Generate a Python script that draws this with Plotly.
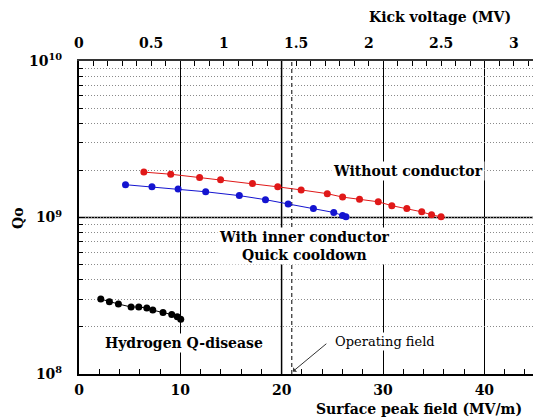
import plotly.graph_objects as go

# ---------------- data ----------------
es_without = [6.40, 9.05, 11.90, 13.97, 17.12, 19.61, 21.92, 24.50, 26.01, 27.68,
              29.53, 30.87, 32.35, 33.82, 34.79, 35.73]
q_without = [1.95e9, 1.89e9, 1.80e9, 1.74e9, 1.65e9, 1.57e9, 1.50e9, 1.42e9, 1.35e9,
             1.31e9, 1.26e9, 1.19e9, 1.14e9, 1.087e9, 1.04e9, 1.01e9]

es_inner = [4.59, 7.20, 9.78, 12.50, 15.82, 18.40, 20.64, 23.13, 25.14, 26.01, 26.34]
q_inner = [1.62e9, 1.57e9, 1.52e9, 1.46e9, 1.38e9, 1.30e9, 1.22e9, 1.14e9, 1.077e9,
           1.03e9, 1.01e9]

es_h = [2.15, 3.00, 3.89, 5.14, 5.90, 6.69, 7.28, 8.29, 9.15, 9.70, 10.04]
q_h = [3.01e8, 2.89e8, 2.80e8, 2.68e8, 2.68e8, 2.64e8, 2.56e8, 2.47e8, 2.40e8,
       2.32e8, 2.24e8]

operating_field = 21.0           # MV/m
kick_per_es = 3.0 / 42.9         # MV per (MV/m)
x_max = 44.8                     # visible part of the field axis
bottom_ticks = [0, 10, 20, 30, 40]
top_ticks = [0, 0.5, 1, 1.5, 2, 2.5, 3]
top_tick_labels = ["0", "0.5", "1", "1.5", "2", "2.5", "3"]
y_major = [1e8, 1e9, 1e10]
y_major_labels = ["10<sup>8</sup>", "10<sup>9</sup>", "10<sup>10</sup>"]
y_minor = [m * 10 ** e for e in (8, 9) for m in range(2, 10)]

FONT = "DejaVu Serif"
BOLD = dict(family=FONT, size=14, color="black", weight="bold")

kick_max = x_max * kick_per_es

fig = go.Figure()

def add_series(x, y, color):
    fig.add_trace(go.Scatter(
        x=x, y=y, mode="lines+markers",
        line=dict(color=color, width=1),
        marker=dict(color=color, size=7, symbol="circle"),
        showlegend=False, hoverinfo="skip"))

add_series(es_without, q_without, "#e01818")
add_series(es_inner, q_inner, "#1414d0")
add_series(es_h, q_h, "black")

# ---------------- axes ----------------
fig.update_layout(
    width=533, height=420,
    margin=dict(l=79, r=0, t=61, b=46, autoexpand=False),
    paper_bgcolor="white", plot_bgcolor="white",
    font=dict(family=FONT, size=14, color="black"),
    xaxis=dict(
        range=[0, x_max], tickvals=bottom_ticks,
        ticktext=[str(v) for v in bottom_ticks],
        tickfont=BOLD, showgrid=True, gridcolor="black", gridwidth=1,
        zeroline=False, showline=True, linecolor="black", linewidth=2,
        ticks="inside", ticklen=5, tickcolor="black",
        minor=dict(dtick=2, ticks="inside", ticklen=5, tickcolor="black", showgrid=False),
        ticklabelstandoff=2, automargin=False, ticklabeloverflow="allow",
    ),
    xaxis2=dict(
        overlaying="x", side="top", anchor="y",
        range=[0, kick_max], tickvals=top_ticks,
        showticklabels=False, showgrid=False, zeroline=False,
        showline=True, linecolor="#333333", linewidth=2,
        ticks="inside", ticklen=5, tickcolor="black",
        minor=dict(dtick=0.1, ticks="inside", ticklen=5, tickcolor="black"),
        automargin=False,
    ),
    yaxis=dict(
        type="log", range=[8, 10],
        tickvals=y_major + y_minor,
        ticktext=y_major_labels + [""] * len(y_minor),
        tickfont=BOLD, showgrid=True, gridcolor="#8a8a8a", gridwidth=1,
        griddash="1px,2px", zeroline=False,
        showline=True, linecolor="black", linewidth=2,
        ticks="inside", ticklen=4, tickcolor="black",
        ticklabelstandoff=12, automargin=False, ticklabeloverflow="allow",
    ),
)

# invisible trace to activate the top (kick voltage) axis
fig.add_trace(go.Scatter(x=[v * kick_per_es for v in es_without], y=q_without,
                         xaxis="x2", yaxis="y", mode="markers",
                         marker=dict(opacity=0), showlegend=False, hoverinfo="skip"))

# top-axis tick labels, placed along the kick-voltage scale
for v, t in zip(top_ticks, top_tick_labels):
    fig.add_annotation(text=t, x=v / kick_max, xref="paper", y=1, yref="paper",
                       yshift=18, showarrow=False, font=BOLD,
                       xanchor="center", yanchor="middle")

# solid major grid line at 10^9 and gray line at 20 MV/m, operating field dashed
fig.add_shape(type="line", xref="paper", x0=0, x1=1, yref="y", y0=1e9, y1=1e9,
              line=dict(color="black", width=1.5), layer="below")
fig.add_shape(type="line", xref="x", x0=20, x1=20, yref="paper", y0=0, y1=1,
              line=dict(color="#808080", width=2), layer="below")
fig.add_shape(type="line", xref="x", x0=operating_field, x1=operating_field,
              yref="paper", y0=0, y1=1,
              line=dict(color="black", width=1, dash="4px,3px"), layer="below")

# ---------------- annotations ----------------
def label(text, x, y, **kw):
    fig.add_annotation(text=text, x=x, y=y, xref="x", yref="y", showarrow=False,
                       bgcolor="white", borderpad=1, **kw)

label("Without conductor", 32.5, 9.296, font=BOLD)
label("With inner conductor<br>Quick cooldown", 22.2, 8.815, font=BOLD)
label("Hydrogen Q-disease", 10.4, 8.20, font=BOLD)
label("Operating field", 30.2, 8.207,
      font=dict(family=FONT, size=13, color="black"))

fig.add_annotation(x=operating_field + 0.1, y=8.016, xref="x", yref="y", text="",
                   showarrow=True, ax=35, ay=-29, arrowhead=1, arrowsize=1,
                   arrowwidth=1, arrowcolor="#333333")

fig.add_annotation(text="Qo", xref="paper", yref="paper",
                   x=(18 - 79) / 454, y=(374 - 218) / 313, textangle=-90,
                   showarrow=False, font=BOLD, xanchor="center", yanchor="middle")
fig.add_annotation(text="Kick voltage (MV)", xref="paper", yref="paper",
                   x=(440 - 79) / 454, y=(374 - 17) / 313,
                   showarrow=False, font=BOLD, xanchor="center", yanchor="middle")
fig.add_annotation(text="Surface peak field (MV/m)", xref="paper", yref="paper",
                   x=(419 - 79) / 454, y=(374 - 409) / 313,
                   showarrow=False, font=BOLD, xanchor="center", yanchor="middle")

fig.write_html("out.html",
               config={"displayModeBar": False},
               post_script="document.body.style.margin='0';document.body.style.overflow='hidden';")
